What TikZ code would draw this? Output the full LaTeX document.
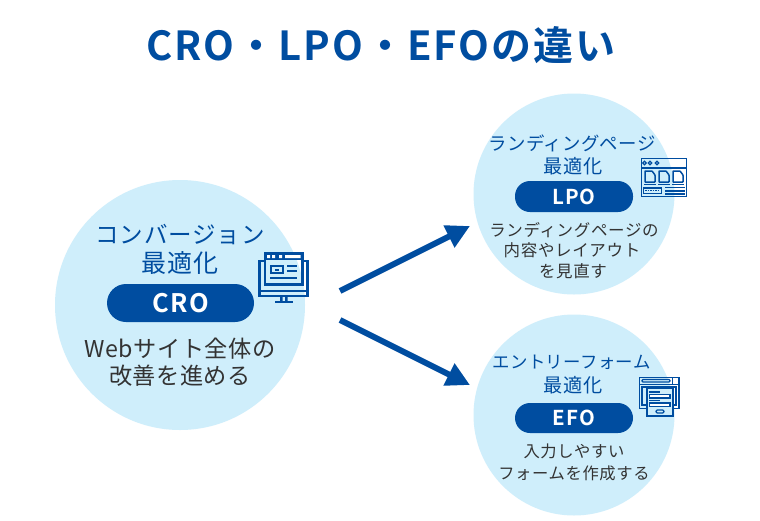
\documentclass[tikz,border=0pt]{standalone}
\usepackage{fontspec}
\usetikzlibrary{arrows.meta}
\setmainfont{Noto Sans CJK JP}
\newfontfamily\jpreg[LetterSpace=4]{Noto Sans CJK JP}
\newfontfamily\jpbody[LetterSpace=2]{Noto Sans CJK JP}
\newfontfamily\jpbold[LetterSpace=5]{Noto Sans CJK JP Bold}
\definecolor{navy}{HTML}{004DA0}
\definecolor{pale}{HTML}{CFEEFB}
\definecolor{ink}{HTML}{333333}
\tikzset{
  x=1pt,y=-1pt,
  bub/.style={circle,fill=pale,inner sep=0pt},
  pill/.style={fill=navy,text=white,inner sep=0pt,rounded corners=15pt,font=\jpbold\fontsize{20.5}{20.5}\selectfont},
  head/.style={text=navy,inner sep=0pt},
  body/.style={text=ink,inner sep=0pt},
  arr/.style={draw=navy,line width=6pt,-{Triangle[length=23.5pt,width=23.3pt]}},
  icl/.style={draw=navy,line width=1.3pt},
}
\begin{document}
\begin{tikzpicture}
\useasboundingbox (0,0) rectangle (760,520);
\fill[white] (0,0) rectangle (760,520);
\node[inner sep=0pt,text=navy,font=\jpbold\fontsize{40}{40}\selectfont] (title) at (381,45) {CRO・LPO・EFOの違い};
% circles
\node[bub,minimum size=250pt] (cro) at (180,305) {};
\node[bub,minimum size=201pt] (lpo) at (574,194) {};
\node[bub,minimum size=201pt] (efo) at (574,415) {};
% CRO
\node[head,font=\jpreg\fontsize{23.5}{23.5}\selectfont] (c1) at (180,235) {コンバージョン};
\node[head,font=\jpreg\fontsize{25}{25}\selectfont] (c2) at (180,263) {最適化};
\node[pill,minimum width=147pt,minimum height=38pt,rounded corners=19pt,font=\jpbold\fontsize{25.5}{25.5}\selectfont] (cp) at (180.5,303) {CRO};
\node[body,font=\jpbody\fontsize{23.2}{23.2}\selectfont] (c3) at (180,349) {Webサイト全体の};
\node[body,font=\jpbody\fontsize{23.2}{23.2}\selectfont] (c4) at (180,376) {改善を進める};
% LPO
\node[head,font=\jpbody\fontsize{18.4}{18.4}\selectfont] (l1) at (572,143) {ランディングページ};
\node[head,font=\jpreg\fontsize{19.2}{19.2}\selectfont] (l2) at (573,166) {最適化};
\node[pill,minimum width=118pt,minimum height=31pt] (lp) at (574,196.5) {LPO};
\node[body,font=\jpreg\fontsize{16.5}{16.5}\selectfont] (l3) at (574,230) {ランディングページの};
\node[body,font=\jpreg\fontsize{16.5}{16.5}\selectfont] (l4) at (572,250) {内容やレイアウト};
\node[body,font=\jpreg\fontsize{16.5}{16.5}\selectfont] (l5) at (573,271) {を見直す};
% EFO
\node[head,font=\jpbody\fontsize{17.4}{17.4}\selectfont] (e1) at (571.5,362) {エントリーフォーム};
\node[head,font=\jpreg\fontsize{19.2}{19.2}\selectfont] (e2) at (573,385) {最適化};
\node[pill,minimum width=118pt,minimum height=30pt] (ep) at (574,418) {EFO};
\node[body,font=\jpreg\fontsize{16.3}{16.3}\selectfont] (e3) at (574,451) {入力しやすい};
\node[body,font=\jpreg\fontsize{16.3}{16.3}\selectfont] (e4) at (574,473) {フォームを作成する};
% arrows
\coordinate (a0) at (340,291);
\coordinate (a1) at (470,226);
\coordinate (b0) at (340,320);
\coordinate (b1) at (470,385);
\draw[arr] (a0) -- (a1);
\draw[arr] (b0) -- (b1);
% CRO icon
\begin{scope}[line width=2.6pt]
\draw[navy] (265,284.5) -- (265,253) -- (302.5,253) -- (302.5,284.5) -- cycle;
\draw[navy] (265,261) -- (259.5,261) -- (259.5,296) -- (307.5,296) -- (307.5,261) -- (302.5,261);
\draw[navy] (259.5,291) -- (307.5,291);
\fill[navy] (265,253) rectangle (302.5,259.5);
\fill[white] (267,255) rectangle (270,258) (272,255) rectangle (275,258) (279,255) rectangle (282,258) (285,255) rectangle (300.5,258);
\draw[navy,line width=2pt] (271,266) rectangle (283,273);
\fill[navy] (275,268.5) rectangle (279,270.5);
\draw[navy,line width=2pt] (287,266) -- (297,266) (287,271) -- (297,271) (270,277.5) -- (297,277.5);
\fill[navy] (280,296) rectangle (282.5,301) (285,296) rectangle (287.5,301);
\fill[navy] (275,300.5) rectangle (293,303);
\end{scope}
% LPO icon
\draw[navy,line width=1.6pt] (641.5,158.5) rectangle (686.5,196.5);
\draw[icl] (641.5,168) -- (686.5,168);
\foreach \dx in {644.5,650,657}{\draw[navy,line width=1.2pt] (\dx,163) circle (1.8pt);}
\foreach \dx in {645,659,673}{
  \draw[navy,line width=1.5pt,rounded corners=.5pt] (\dx,171) -- (\dx+7,171) -- (\dx+10,175) -- (\dx+10,182) -- (\dx,182) -- cycle;
  \draw[icl] (\dx-1,184.5) -- (\dx+11,184.5);
}
\draw[icl] (643.5,188) rectangle (661.5,193.5);
\draw[navy,line width=1pt,dash pattern=on 1.5pt off 1pt] (645,190.7) -- (660,190.7);
\draw[icl] (665,187.5) -- (685,187.5) (665,191) -- (685,191) (665,194) -- (685,194);
% EFO icon
\draw[icl] (639.5,377.5) rectangle (679,408.5);
\draw[icl] (639.5,384.5) -- (679,384.5);
\draw[icl,rounded corners=1pt] (642,379.5) rectangle (670,382);
\draw[icl] (672.5,377.5) -- (672.5,384.5);
\draw[icl] (642,387) -- (642,405) -- (676,405) -- (676,387) -- cycle;
\draw[icl,fill=pale] (647,388.5) rectangle (673,416);
\draw[icl] (649,392) -- (660,392);
\draw[icl,fill=white] (649.5,394.5) rectangle (670,398);
\draw[icl] (649,400.5) -- (660,400.5);
\draw[icl,fill=white] (649.5,403) rectangle (670,406.5);
\draw[icl,rounded corners=1.2pt] (656,410) rectangle (664,413);
\end{tikzpicture}
\end{document}
